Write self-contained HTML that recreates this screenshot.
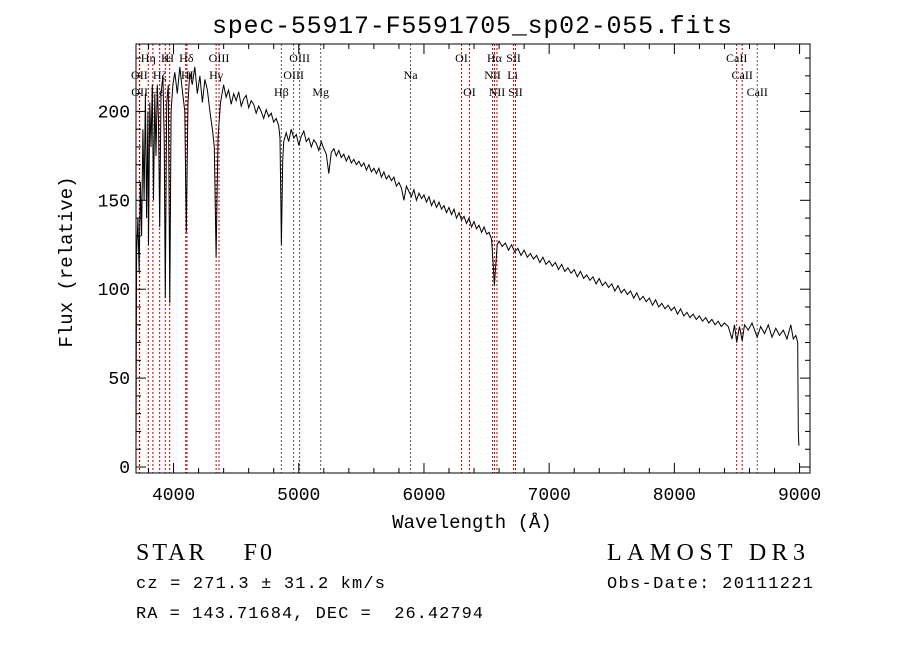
<!DOCTYPE html>
<html><head><meta charset="utf-8"><style>
body{margin:0;background:#fff}
svg text{font-family:"Liberation Serif",serif;fill:#000}
svg text.mono{font-family:"Liberation Mono",monospace}
</style></head><body>
<svg id="chart" width="900" height="649" viewBox="0 0 900 649" xmlns="http://www.w3.org/2000/svg">
<rect width="900" height="649" fill="#fff"/>
<text class="mono" x="472" y="33" font-size="25" text-anchor="middle" textLength="520">spec-55917-F5591705_sp02-055.fits</text>
<g id="lines"></g>
<g id="labels" font-size="12"></g>
<path id="spec" fill="none" stroke="#000" stroke-width="1"/>
<rect x="136" y="44" width="674" height="429" fill="none" stroke="#000" stroke-width="1"/>
<g id="ticks" stroke="#000"></g>
<g id="ticklabels"></g>
<text class="mono" x="472" y="528" font-size="19" text-anchor="middle">Wavelength (Å)</text>
<text class="mono" transform="translate(72,262) rotate(-90)" font-size="19" text-anchor="middle">Flux (relative)</text>
<text x="136" y="560" font-size="24" textLength="136" xml:space="preserve">STAR    F0</text>
<text x="607" y="560" font-size="24" textLength="198">LAMOST DR3</text>
<text class="mono" x="136" y="588" font-size="17" textLength="249">cz = 271.3 ± 31.2 km/s</text>
<text class="mono" x="607" y="588" font-size="17" textLength="206">Obs-Date: 20111221</text>
<text class="mono" x="136" y="618" font-size="17" textLength="347" xml:space="preserve">RA = 143.71684, DEC =  26.42794</text>
</svg>
<script>
function range(a,b,s){const r=[];for(let w=a;w<=b;w+=s)r.push(w);return r;}
const wave=[3700,3705,3715,3725,3735,3745,3755,3765,3775,3785,3795,3800,3810,3820,3830,3840,3850,3860,3870,3880,3889,3900,3915,3925,3934,3945,3958,3970,3980,3995,4010,4030,4050,4070,4090,4102,4115,4130,4150,4170,4190,4210,4230,4250,4270,4290,4310,4325,4340,4355,4375]
 .concat(range(4400,4840,20),[4850,4861,4872,4880],range(4900,5800,20),range(5820,6500,20),[6520,6540,6555,6563,6570,6585],range(6600,8400,25),
 [8430,8460,8480,8498,8520,8542,8560,8590,8620,8662,8690,8720,8750,8780,8810,8840,8870,8900,8930,8950,8970,8985,8990,8995]);
const flux=[10,120,140,110,160,130,190,150,210,140,200,125,205,180,215,150,210,175,215,195,135,210,220,185,95,205,215,92,200,215,222,210,225,212,200,132,205,222,215,225,210,220,205,218,212,200,190,180,118,185,205,
 215,208,212,204,210,206,211,203,207,209,202,206,204,199,203,200,196,201,197,199,194,196,192,
 185,125,172,183,
 188,183,190,185,187,181,186,189,183,185,180,184,182,178,183,179,176,165,177,179,175,178,174,176,172,175,171,173,170,172,169,171,167,170,166,168,165,168,163,166,162,164,161,163,158,160,
 157,150,158,155,152,156,150,154,151,153,149,152,147,150,146,149,145,147,143,146,142,145,140,143,139,141,137,140,135,138,134,136,132,135,131,
 132,128,112,102,110,125,
 127,124,126,122,125,121,123,119,122,118,120,117,119,115,118,114,116,113,115,111,114,110,112,109,111,107,110,106,108,105,107,103,106,102,104,101,103,99,102,98,100,97,99,95,98,94,96,93,95,91,94,90,92,89,91,88,90,86,89,85,87,84,86,83,85,82,84,81,83,80,82,79,81,
 79,72,80,70,79,71,80,77,81,73,79,75,80,73,78,74,77,72,80,72,74,70,20,12];
const redLines=[3727,3729,3798,3835,3889,3934,3969,4097,4107,4340,4363,6300,6363,6548,6563,6583,6716,6731,8498,8542];
const grayLines=[4861,4959,5007,5175,5893,8662];
const lineLabels=["OII","OII","Hη","Hζ","Hε","K","H","Hδ","HI","Hγ","OIII","Hβ","OIII","OIII","Mg","Na","OI","OI","NII","Hα","NII","Li","SII","SII","CaII","CaII","CaII"];
const labelWave=[3727,3729,3798,3889,3870,3934,3969,4102,4110,4340,4363,4861,4959,5007,5175,5893,6300,6363,6548,6563,6583,6708,6716,6731,8498,8542,8662];
const labelRow=[1,2,0,1,2,0,0,0,1,1,0,2,1,0,2,1,0,2,1,0,2,1,0,2,0,1,2];
const xTicks=[4000,5000,6000,7000,8000,9000];
const yTicks=[0,50,100,150,200];
const X=w=>136+(w-3700)*0.1252;
const Y=f=>467-f*1.778;
const NS="http://www.w3.org/2000/svg";
function mk(tag,parent,attrs){const e=document.createElementNS(NS,tag);for(const k in attrs)e.setAttribute(k,attrs[k]);document.getElementById(parent).appendChild(e);return e;}
const n=Math.min(wave.length,flux.length);
let d='';for(let i=0;i<n;i++)d+=(i?'L':'M')+X(wave[i]).toFixed(1)+','+Y(flux[i]).toFixed(1);
document.getElementById('spec').setAttribute('d',d);
redLines.forEach(w=>{const l=mk('line','lines',{x1:X(w),x2:X(w),y1:44,y2:473,stroke:'#c00000','stroke-dasharray':'2,2'});

});
grayLines.forEach(w=>{const l=mk('line','lines',{x1:X(w),x2:X(w),y1:44,y2:473,stroke:'#555','stroke-dasharray':'2,2'});

});
lineLabels.forEach((t,i)=>{const e=mk('text','labels',{x:X(labelWave[i]),y:62+labelRow[i]*17,'text-anchor':'middle'});e.textContent=t;

});
for(let w=3800;w<=9000;w+=200){const maj=w%1000===0;const h=maj?10:5;
mk('line','ticks',{x1:X(w),x2:X(w),y1:473,y2:473-h});mk('line','ticks',{x1:X(w),x2:X(w),y1:44,y2:44+h});}
for(let f=0;f<=230;f+=10){const maj=f%50===0;const h=maj?10:5;
mk('line','ticks',{x1:136,x2:136+h,y1:Y(f),y2:Y(f)});mk('line','ticks',{x1:810,x2:810-h,y1:Y(f),y2:Y(f)});}
xTicks.forEach(w=>{const e=mk('text','ticklabels',{x:X(w),y:500,'text-anchor':'middle','class':'mono','font-size':'18'});e.textContent=w;

});
yTicks.forEach(f=>{const e=mk('text','ticklabels',{x:130,y:Y(f)+6,'text-anchor':'end','class':'mono','font-size':'18'});e.textContent=f;

});
</script>
</body></html>
